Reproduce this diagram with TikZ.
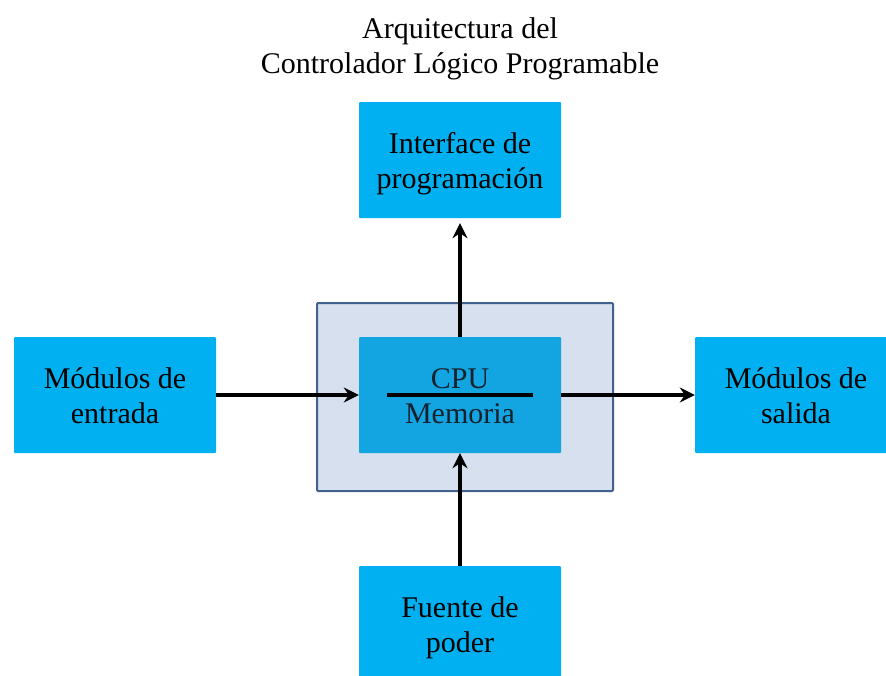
\documentclass[tikz,border=0pt]{standalone}
\usepackage{fontspec}
\setmainfont{Liberation Serif}
\usetikzlibrary{arrows.meta}
\definecolor{boxcyan}{HTML}{00B0F0}
\definecolor{cpublue}{HTML}{13A4E2}
\definecolor{outerfill}{HTML}{D6E0EE}
\definecolor{outerdraw}{HTML}{41618F}
\definecolor{cputext}{HTML}{17212C}
\newcommand{\topstrut}{\rule{0pt}{28pt}}
\newcommand{\botstrut}{\rule[-7pt]{0pt}{7pt}}
\begin{document}
\begin{tikzpicture}[x=1pt,y=-1pt,
  txt/.style={font=\fontsize{30}{35}\selectfont},
  box/.style={txt, fill=boxcyan, minimum width=202pt, minimum height=116pt,
    inner sep=0pt, align=center, rounded corners=1pt},
  link/.style={line width=3.5pt, draw=black,
    -{Stealth[length=15pt,width=15pt,inset=5pt]}}]
\clip (0,0) rectangle (886,675);
\fill[white] (0,0) rectangle (886,675);
% title
\node[txt, anchor=base] (title1) at (460,38) {Arquitectura del};
\node[txt, anchor=base] (title2) at (460,73) {Controlador Lógico Programable};
% PLC outer box
\node[draw=outerdraw, fill=outerfill, line width=2pt, rounded corners=1pt,
  minimum width=296pt, minimum height=188pt, inner sep=0pt] (plc) at (465,397) {};
% CPU
\node[box, fill=cpublue, text=cputext] (cpu) at (460,395)
  {\topstrut CPU\\Memoria\botstrut};
\draw[line width=4pt, black] (387,395) coordinate (lineL) -- (533,395) coordinate (lineR);
% surrounding boxes
\node[box] (ifc) at (460,160) {\topstrut Interface de\\programación\botstrut};
\node[box] (in) at (115,395) {\topstrut Módulos de\\entrada\botstrut};
\node[box] (out) at (796,395) {\topstrut Módulos de\\salida\botstrut};
\node[box] (pwr) at (460,624) {\topstrut Fuente de\\poder\botstrut};
% connectors
\draw[link] (in.east) -- (cpu.west);
\draw[link] (cpu.east) -- (out.west);
\draw[link, shorten >=5pt] (cpu.north) -- (ifc.south);
\draw[link] (pwr.north) -- (cpu.south);
\end{tikzpicture}
\end{document}
